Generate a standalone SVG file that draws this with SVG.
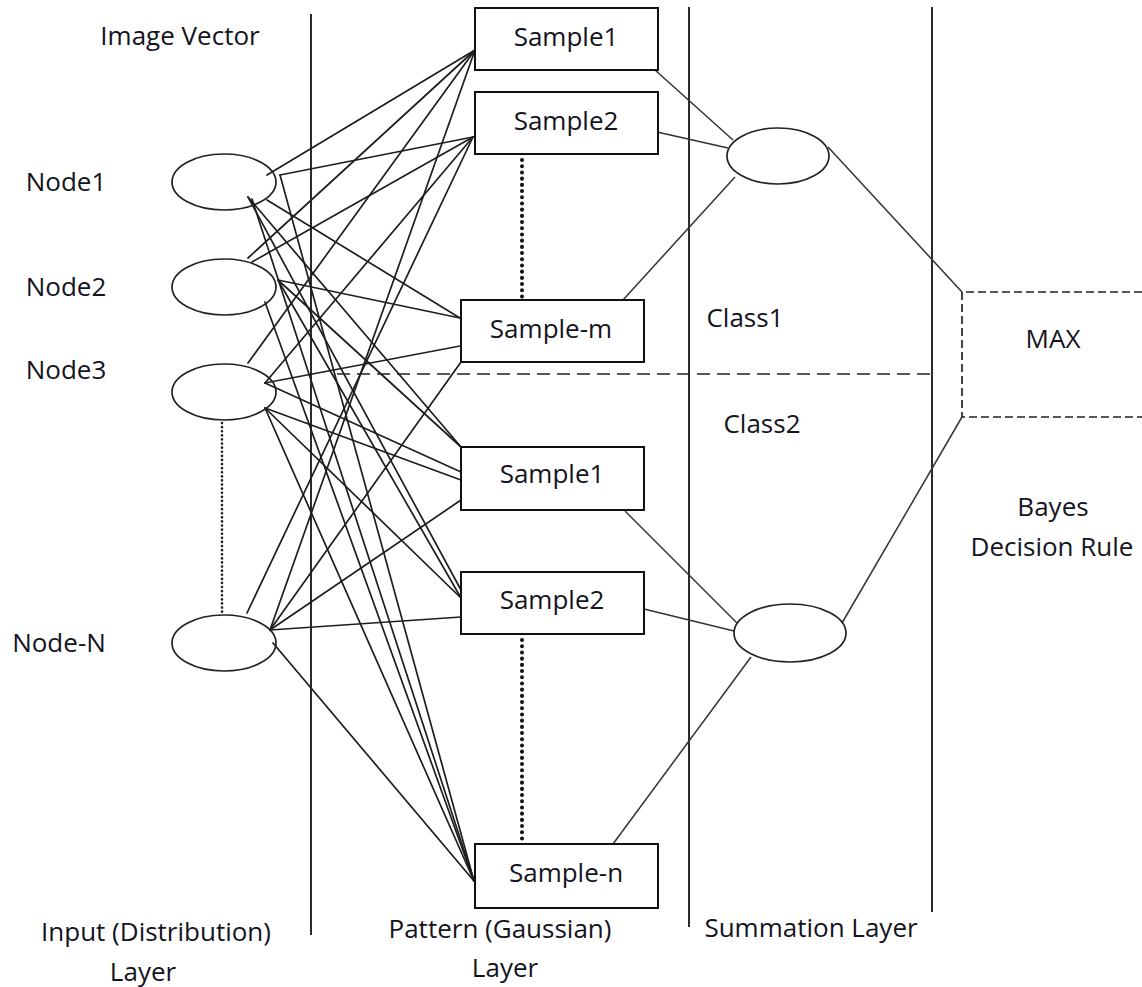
<svg xmlns="http://www.w3.org/2000/svg" width="1142" height="987" viewBox="0 0 1142 987">
  <style>
    .bg { fill: #ffffff; }
    .sep { stroke: #2b2b2b; stroke-width: 2; fill: none; }
    .wire { stroke: #1e1e1e; stroke-width: 1.7; fill: none; stroke-linecap: round; }
    .sum { stroke: #333333; stroke-width: 1.5; fill: none; }
    .node { stroke: #222222; stroke-width: 1.7; fill: none; }
    .box { stroke: #111111; stroke-width: 2; fill: #ffffff; }
    .dots-big { stroke: #111111; stroke-width: 4; stroke-linecap: round; stroke-dasharray: 0.1 6.1; fill: none; }
    .dots-small { stroke: #222222; stroke-width: 2.6; stroke-linecap: round; stroke-dasharray: 0.1 4; fill: none; }
    .dash-long { stroke: #222222; stroke-width: 1.7; stroke-dasharray: 13 7; fill: none; }
    .dash-short { stroke: #222222; stroke-width: 1.7; stroke-dasharray: 8 4; fill: none; }
    .lbl { font-family: "Open Sans", "Liberation Sans", sans-serif; font-size: 26px; fill: #14141e; text-anchor: middle; }
  </style>

  <rect class="bg" x="0" y="0" width="1142" height="987"/>

  <!-- layer separators -->
  <g id="separators">
    <line class="sep" x1="311" y1="14" x2="311" y2="935"/>
    <line class="sep" x1="689" y1="7" x2="689" y2="927"/>
    <line class="sep" x1="932" y1="7" x2="932" y2="912"/>
  </g>

  <!-- all connectors -->
  <g id="connectors">
    <!-- Node1 to pattern units -->
    <line class="wire" x1="267" y1="175" x2="475" y2="50"/>
    <line class="wire" x1="280" y1="175" x2="473" y2="137"/>
    <line class="wire" x1="267" y1="200" x2="460" y2="318"/>
    <line class="wire" x1="248" y1="197" x2="461" y2="447"/>
    <line class="wire" x1="248" y1="197" x2="461" y2="590"/>
    <line class="wire" x1="280" y1="175" x2="474" y2="881"/>
    <line class="wire" x1="252" y1="199" x2="474" y2="881"/>

    <!-- Node2 to pattern units -->
    <line class="wire" x1="248" y1="258" x2="475" y2="50"/>
    <line class="wire" x1="252" y1="262" x2="473" y2="137"/>
    <line class="wire" x1="278" y1="280" x2="460" y2="318"/>
    <line class="wire" x1="278" y1="280" x2="461" y2="447"/>
    <line class="wire" x1="278" y1="280" x2="461" y2="598"/>
    <line class="wire" x1="265" y1="302" x2="474" y2="881"/>

    <!-- Node3 to pattern units -->
    <line class="wire" x1="248" y1="363" x2="475" y2="50"/>
    <line class="wire" x1="265" y1="383" x2="473" y2="137"/>
    <line class="wire" x1="265" y1="383" x2="460" y2="346"/>
    <line class="wire" x1="265" y1="383" x2="461" y2="472"/>
    <line class="wire" x1="265" y1="408" x2="461" y2="480"/>
    <line class="wire" x1="265" y1="408" x2="461" y2="598"/>
    <line class="wire" x1="265" y1="408" x2="474" y2="881"/>

    <!-- Node-N to pattern units -->
    <line class="wire" x1="247" y1="613" x2="473" y2="137"/>
    <line class="wire" x1="270" y1="630" x2="475" y2="50"/>
    <line class="wire" x1="270" y1="630" x2="461" y2="362"/>
    <line class="wire" x1="270" y1="630" x2="461" y2="500"/>
    <line class="wire" x1="270" y1="630" x2="461" y2="617"/>
    <line class="wire" x1="273" y1="643" x2="474" y2="881"/>

    <!-- pattern units to summation units -->
    <line class="sum" x1="655" y1="70" x2="733" y2="140"/>
    <line class="sum" x1="657" y1="132" x2="728" y2="148"/>
    <line class="sum" x1="623" y1="300" x2="735" y2="177"/>
    <line class="sum" x1="625" y1="511" x2="737" y2="623"/>
    <line class="sum" x1="644" y1="609" x2="734" y2="631"/>
    <line class="sum" x1="613" y1="844" x2="751" y2="657"/>

    <!-- summation units to decision -->
    <line class="sum" x1="828" y1="147" x2="962" y2="292"/>
    <line class="sum" x1="842" y1="623" x2="962" y2="417"/>

    <!-- ellipsis markers -->
    <line class="dots-big" x1="522" y1="160" x2="522" y2="298"/>
    <line class="dots-big" x1="522" y1="640" x2="522" y2="842"/>
    <line class="dots-small" x1="222" y1="423" x2="222" y2="612"/>

    <!-- class boundary -->
    <line class="dash-long" x1="337" y1="374" x2="932" y2="374"/>

    <!-- MAX block outline -->
    <path class="dash-short" d="M1142 292 H962 V417 H1142"/>
  </g>

  <!-- input layer -->
  <g id="input-node-1">
    <ellipse class="node" cx="224" cy="182" rx="52" ry="28"/>
    <text class="lbl" x="66" y="191">Node1</text>
  </g>
  <g id="input-node-2">
    <ellipse class="node" cx="224" cy="287" rx="52" ry="28"/>
    <text class="lbl" x="66" y="296">Node2</text>
  </g>
  <g id="input-node-3">
    <ellipse class="node" cx="224" cy="392" rx="52" ry="28"/>
    <text class="lbl" x="66" y="379">Node3</text>
  </g>
  <g id="input-node-n">
    <ellipse class="node" cx="224" cy="643" rx="52" ry="28"/>
    <text class="lbl" x="59" y="652">Node-N</text>
  </g>

  <!-- pattern layer, class 1 -->
  <g id="c1-sample-1">
    <rect class="box" x="475" y="8" width="183" height="62"/>
    <text class="lbl" x="566" y="46">Sample1</text>
  </g>
  <g id="c1-sample-2">
    <rect class="box" x="475" y="92" width="183" height="62"/>
    <text class="lbl" x="566" y="130">Sample2</text>
  </g>
  <g id="c1-sample-m">
    <rect class="box" x="461" y="300" width="183" height="62"/>
    <text class="lbl" x="551" y="338">Sample-m</text>
  </g>

  <!-- pattern layer, class 2 -->
  <g id="c2-sample-1">
    <rect class="box" x="461" y="447" width="183" height="63"/>
    <text class="lbl" x="552" y="483">Sample1</text>
  </g>
  <g id="c2-sample-2">
    <rect class="box" x="461" y="572" width="183" height="62"/>
    <text class="lbl" x="552" y="609">Sample2</text>
  </g>
  <g id="c2-sample-n">
    <rect class="box" x="475" y="844" width="183" height="64"/>
    <text class="lbl" x="566" y="882">Sample-n</text>
  </g>

  <!-- summation layer -->
  <g id="sum-class-1">
    <ellipse class="node" cx="778" cy="156" rx="51" ry="28"/>
  </g>
  <g id="sum-class-2">
    <ellipse class="node" cx="790" cy="633" rx="56" ry="29"/>
  </g>

  <!-- decision -->
  <g id="decision-max">
    <text class="lbl" x="1053" y="348">MAX</text>
  </g>

  <!-- captions -->
  <g id="captions">
    <text class="lbl" x="180" y="45">Image Vector</text>
    <text class="lbl" x="745" y="327">Class1</text>
    <text class="lbl" x="762" y="433">Class2</text>
    <text class="lbl" x="1053" y="516">Bayes</text>
    <text class="lbl" x="1052" y="556">Decision Rule</text>
    <text class="lbl" x="156" y="941">Input (Distribution)</text>
    <text class="lbl" x="143" y="981">Layer</text>
    <text class="lbl" x="500" y="938">Pattern (Gaussian)</text>
    <text class="lbl" x="505" y="977">Layer</text>
    <text class="lbl" x="811" y="937">Summation Layer</text>
  </g>
</svg>
